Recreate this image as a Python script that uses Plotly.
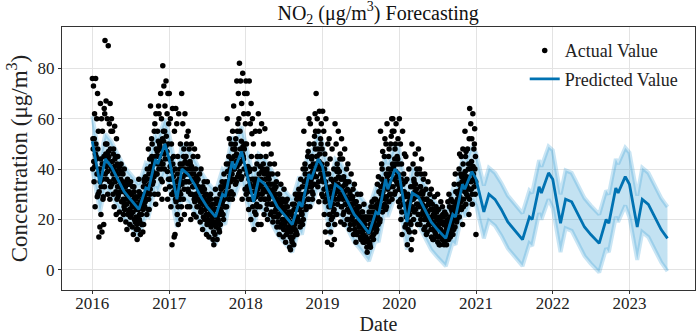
import pandas as pd
import plotly.graph_objects as go

# ---------------- data ----------------
actual_2016 = [
    [76, 52, 73, 35, 62, 25, 76, 45, 60, 29, 70, 48, 30, 55, 38],
    [13, 38, 17, 66, 22, 60, 15, 55, 28, 42, 18, 45, 64, 33, 62],
    [91, 50, 67, 36, 60, 30, 89, 45, 58, 28, 66, 48, 33, 55, 40],
    [60, 40, 55, 30, 48, 25, 57, 35, 45, 22, 52, 38, 28, 42, 33],
    [45, 30, 40, 23, 35, 20, 42, 27, 33, 35, 38, 28, 22, 31, 25],
    [40, 26, 33, 19, 30, 16, 36, 22, 28, 34, 31, 24, 18, 27, 21],
    [35, 22, 30, 17, 26, 14, 33, 20, 25, 29, 28, 21, 16, 24, 18],
    [12, 26, 16, 36, 20, 19, 14, 30, 22, 25, 18, 28, 15, 24, 33],
    [18, 36, 25, 27, 30, 33, 22, 40, 32, 48, 28, 38, 24, 34, 44],
    [30, 65, 40, 52, 50, 35, 35, 42, 55, 58, 45, 38, 26, 62, 48],
    [45, 38, 55, 30, 65, 62, 50, 48, 70, 40, 60, 42, 28, 35, 52],
    [81, 55, 73, 40, 65, 32, 75, 47, 62, 28, 70, 50, 36, 58, 44],
]
actual_2017 = [
    [70, 36, 60, 25, 50, 10, 64, 30, 45, 13, 55, 33, 14, 40, 28],
    [64, 32, 58, 22, 45, 18, 62, 28, 40, 42, 50, 30, 20, 35, 25],
    [70, 40, 58, 28, 48, 22, 62, 35, 45, 50, 53, 38, 25, 42, 32],
    [55, 35, 48, 25, 42, 20, 50, 30, 40, 36, 45, 33, 22, 38, 28],
    [48, 29, 40, 21, 35, 30, 45, 25, 33, 28, 38, 27, 19, 31, 23],
    [40, 24, 32, 16, 28, 26, 35, 20, 27, 30, 30, 22, 14, 25, 18],
    [35, 20, 28, 13, 25, 24, 30, 17, 23, 21, 26, 19, 12, 22, 15],
    [10, 24, 14, 32, 18, 19, 12, 28, 20, 23, 16, 26, 15, 22, 30],
    [18, 33, 23, 26, 27, 22, 20, 38, 29, 34, 25, 35, 30, 31, 42],
    [25, 60, 35, 33, 45, 52, 30, 42, 50, 44, 40, 38, 28, 55, 48],
    [30, 65, 40, 48, 50, 52, 35, 75, 55, 58, 45, 70, 38, 60, 42],
    [82, 55, 75, 36, 66, 28, 78, 45, 62, 48, 70, 50, 32, 58, 40],
]
actual_2018 = [
    [75, 50, 70, 32, 62, 24, 75, 40, 58, 20, 66, 45, 28, 54, 36],
    [60, 28, 50, 16, 40, 35, 55, 22, 36, 42, 45, 25, 30, 32, 18],
    [62, 35, 55, 25, 45, 18, 58, 30, 40, 42, 50, 32, 22, 38, 28],
    [56, 32, 45, 24, 40, 20, 50, 28, 36, 38, 42, 30, 22, 34, 26],
    [46, 26, 38, 19, 32, 29, 42, 23, 30, 33, 35, 25, 17, 28, 21],
    [38, 22, 30, 14, 26, 24, 34, 18, 25, 27, 28, 20, 13, 23, 16],
    [32, 18, 25, 11, 22, 21, 28, 15, 20, 17, 23, 16, 9, 19, 13],
    [8, 22, 12, 11, 16, 19, 10, 26, 18, 30, 14, 24, 15, 20, 28],
    [14, 30, 20, 25, 24, 29, 17, 36, 26, 23, 22, 33, 18, 28, 40],
    [20, 55, 30, 42, 40, 24, 25, 33, 45, 47, 35, 28, 60, 50, 38],
    [25, 58, 35, 33, 45, 28, 30, 38, 50, 53, 40, 62, 48, 55, 42],
    [70, 45, 60, 33, 55, 27, 63, 40, 52, 50, 58, 42, 30, 48, 36],
]
actual_2019 = [
    [63, 35, 55, 22, 46, 15, 60, 28, 42, 11, 50, 32, 18, 38, 25],
    [52, 27, 44, 15, 36, 10, 48, 21, 33, 35, 40, 24, 12, 30, 18],
    [58, 33, 50, 22, 42, 40, 55, 28, 39, 44, 46, 30, 19, 36, 25],
    [52, 30, 44, 22, 37, 18, 48, 26, 34, 35, 40, 28, 20, 32, 24],
    [42, 24, 35, 16, 30, 25, 38, 20, 28, 29, 32, 22, 14, 26, 18],
    [34, 19, 27, 11, 23, 24, 30, 15, 22, 18, 25, 17, 21, 20, 13],
    [30, 15, 23, 17, 19, 14, 26, 11, 18, 12, 21, 13, 20, 16, 9],
    [7, 21, 11, 16, 15, 10, 9, 25, 17, 27, 13, 23, 20, 19, 12],
    [14, 28, 18, 23, 22, 17, 16, 34, 24, 37, 20, 31, 27, 26, 19],
    [20, 55, 30, 42, 40, 47, 25, 33, 45, 52, 35, 28, 24, 50, 38],
    [25, 58, 35, 33, 45, 48, 30, 38, 50, 53, 40, 60, 28, 55, 42],
    [60, 40, 55, 30, 48, 50, 58, 35, 45, 44, 52, 38, 27, 42, 32],
]
actual_2020 = [
    [60, 32, 50, 20, 42, 14, 55, 26, 38, 31, 46, 29, 17, 35, 23],
    [45, 21, 36, 10, 30, 25, 40, 15, 27, 29, 33, 18, 8, 24, 12],
    [50, 28, 42, 20, 35, 15, 46, 24, 32, 40, 38, 26, 18, 30, 22],
    [48, 26, 40, 18, 33, 38, 44, 22, 30, 31, 36, 24, 16, 28, 20],
    [38, 22, 32, 14, 28, 23, 35, 18, 26, 19, 30, 20, 27, 24, 16],
    [32, 19, 26, 12, 22, 18, 29, 15, 21, 25, 24, 17, 23, 20, 13],
    [30, 17, 24, 10, 20, 16, 27, 14, 19, 25, 22, 15, 21, 18, 12],
    [10, 23, 14, 18, 17, 16, 12, 27, 19, 30, 15, 25, 20, 21, 13],
    [14, 28, 18, 23, 22, 17, 16, 34, 24, 38, 20, 31, 27, 26, 19],
    [20, 28, 30, 24, 40, 46, 25, 38, 45, 37, 35, 33, 18, 48, 42],
    [25, 38, 35, 55, 45, 47, 30, 33, 48, 36, 40, 42, 22, 52, 28],
    [64, 42, 58, 32, 52, 26, 62, 38, 48, 50, 56, 40, 30, 45, 35, 14],
]
# Additional observed values in the dense core of each month's cloud
core_2016 = [
    [40, 48, 43, 52, 41, 46, 50, 44, 38], [31, 40, 35, 44, 33, 38, 42, 36, 29],
    [38, 46, 41, 50, 39, 44, 47, 42, 35], [34, 43, 38, 46, 36, 41, 44, 39, 31],
    [29, 38, 33, 41, 31, 36, 39, 34, 27], [24, 33, 28, 35, 26, 31, 34, 29, 23],
    [21, 30, 25, 33, 23, 28, 31, 26, 19], [20, 29, 24, 31, 22, 27, 30, 25, 18],
    [26, 35, 30, 37, 28, 33, 36, 31, 24], [32, 41, 36, 45, 34, 39, 43, 37, 30],
    [38, 47, 42, 51, 40, 45, 49, 43, 36], [42, 51, 46, 55, 44, 49, 53, 47, 39],
]
core_2017 = [
    [33, 41, 36, 44, 30, 39, 42, 37, 31], [27, 35, 30, 38, 25, 33, 36, 31, 28],
    [34, 42, 37, 45, 32, 40, 43, 38, 35], [31, 40, 35, 43, 30, 38, 41, 36, 33],
    [27, 35, 30, 37, 25, 33, 36, 31, 28], [23, 31, 26, 33, 21, 29, 32, 27, 24],
    [19, 27, 22, 29, 18, 25, 28, 23, 20], [18, 26, 21, 28, 17, 24, 27, 22, 19],
    [24, 32, 27, 35, 22, 30, 33, 28, 25], [30, 39, 34, 42, 28, 37, 40, 35, 31],
    [36, 45, 40, 48, 34, 43, 46, 41, 37], [39, 48, 43, 51, 37, 46, 49, 44, 40],
]
core_2018 = [
    [30, 38, 33, 41, 28, 36, 39, 34, 31], [25, 33, 28, 36, 23, 31, 34, 29, 26],
    [30, 38, 33, 41, 28, 36, 39, 34, 31], [28, 36, 31, 39, 26, 34, 37, 32, 29],
    [23, 31, 26, 34, 21, 29, 32, 27, 24], [19, 27, 22, 30, 17, 25, 28, 23, 20],
    [16, 24, 19, 27, 14, 22, 25, 20, 17], [15, 23, 18, 26, 13, 21, 24, 19, 16],
    [21, 29, 24, 32, 19, 27, 30, 25, 22], [27, 35, 30, 38, 25, 33, 36, 31, 28],
    [33, 41, 36, 44, 31, 39, 42, 37, 34], [37, 45, 40, 48, 35, 43, 46, 41, 38],
]
core_2019 = [
    [29, 37, 32, 40, 27, 35, 38, 33, 30], [22, 30, 25, 33, 20, 28, 31, 26, 23],
    [28, 36, 31, 39, 26, 34, 37, 32, 29], [25, 33, 28, 36, 23, 31, 34, 29, 26],
    [20, 28, 23, 31, 18, 26, 29, 24, 21], [16, 24, 19, 27, 14, 22, 25, 20, 17],
    [12, 20, 15, 23, 11, 18, 21, 16, 13], [12, 20, 15, 23, 11, 18, 21, 16, 13],
    [17, 25, 20, 28, 15, 23, 26, 21, 18], [25, 33, 28, 36, 23, 31, 34, 29, 26],
    [29, 37, 32, 40, 27, 35, 38, 33, 30], [33, 41, 36, 44, 31, 39, 42, 37, 34],
]
core_2020 = [
    [25, 33, 28, 36, 23, 31, 34, 29, 26], [18, 26, 21, 29, 16, 24, 27, 22, 19],
    [25, 33, 28, 36, 23, 31, 34, 29, 26], [22, 30, 25, 33, 20, 28, 31, 26, 23],
    [17, 25, 20, 28, 15, 23, 26, 21, 18], [13, 21, 16, 24, 12, 19, 22, 17, 14],
    [11, 18, 13, 21, 10, 16, 19, 14, 12], [11, 19, 14, 22, 10, 17, 20, 15, 12],
    [16, 24, 19, 27, 14, 22, 25, 20, 17], [23, 31, 26, 34, 21, 29, 32, 27, 24],
    [28, 36, 31, 39, 26, 34, 37, 32, 29], [32, 40, 35, 43, 30, 38, 41, 36, 33],
]
actual_years = [2016, 2017, 2018, 2019, 2020]

# Forecast key dates (month-day) and values
pred_month_days = ["01-01", "02-07", "03-03", "04-01", "05-01", "06-01", "07-01",
                   "08-10", "09-12", "09-25", "10-28", "11-08", "12-12"]
pred_years = [2016, 2017, 2018, 2019, 2020, 2021, 2022, 2023]
predicted = [
    51, 34, 44, 41, 36, 31, 28, 24, 32.5, 32, 44, 42, 50,
    44, 28, 40, 38, 34, 29, 25, 21, 30, 29, 43, 40, 47,
    40, 27, 36, 34, 30, 25, 22, 18, 27, 25, 38, 36, 44,
    41, 24.5, 34, 32, 27, 22, 19, 14.5, 23, 22, 36, 32, 40,
    38, 19, 30.5, 29, 24, 19, 16, 12.5, 22, 21, 34, 32, 39,
    36, 23, 30, 28, 24, 19, 16, 12, 21, 20, 33, 30.5, 38.5,
    36, 18.5, 28, 27, 22, 17, 14, 10.5, 20, 18.5, 32.5, 30.5, 37,
    34, 17, 28, 26, 21, 16, 12.5,
]
upper = [
    61, 44, 54, 51, 46, 41, 38, 34, 42.5, 42, 54, 52, 60,
    54, 38, 50, 48, 44, 39, 35, 31, 40, 39, 53, 50, 57,
    50, 37, 46, 44, 40, 35, 32, 28, 37, 35, 48, 46, 54,
    51, 34.5, 44, 42, 37, 32, 29, 24.5, 33, 32, 46, 42, 50,
    48, 29, 40.5, 39, 34, 29, 26, 22.5, 32, 31, 44, 42, 49,
    46.5, 33.5, 40.5, 38.5, 34.5, 29.5, 26.5, 22.5, 31.5, 30.5, 43.5, 41, 49,
    47.5, 30, 39.5, 38.5, 33.5, 28.5, 25.5, 22, 31.5, 30, 44, 42, 48.5,
    46.5, 29.5, 40.5, 38.5, 33.5, 28.5, 25,
]
lower = [
    40, 23, 33, 30, 25, 20, 17, 13, 21.5, 21, 33, 31, 39,
    33, 17, 29, 27, 23, 18, 14, 10, 19, 18, 32, 29, 36,
    29, 16, 25, 23, 19, 14, 11, 7, 16, 14, 27, 25, 33,
    30, 13.5, 23, 21, 16, 11, 8, 3.5, 12, 11, 25, 21, 29,
    27, 8, 19.5, 18, 13, 8, 5, 1.5, 11, 10, 23, 21, 28,
    25.5, 12.5, 19.5, 17.5, 13.5, 8.5, 5.5, 1.5, 10.5, 9.5, 22.5, 20, 28,
    24.5, 7, 16.5, 15.5, 10.5, 5.5, 2.5, -1, 8.5, 7, 21, 19, 25.5,
    21, 4, 15, 13, 8, 3, -0.5,
]
x_tick_years = [2016, 2017, 2018, 2019, 2020, 2021, 2022, 2023]
y_ticks = [0, 20, 40, 60, 80]

# ---------------- build x positions ----------------
act_x, act_y = [], []
mains = [actual_2016, actual_2017, actual_2018, actual_2019, actual_2020]
cores = [core_2016, core_2017, core_2018, core_2019, core_2020]
for yr, months, cmonths in zip(actual_years, mains, cores):
    for m, (vals, cvals) in enumerate(zip(months, cmonths), start=1):
        merged = []
        for i in range(max(len(vals), len(cvals))):
            if i < len(vals):
                merged.append(vals[i])
            if i < len(cvals):
                merged.append(cvals[i])
        start = pd.Timestamp(yr, m, 1)
        ndays = start.days_in_month
        n = len(merged)
        for i, v in enumerate(merged):
            act_x.append(start + pd.Timedelta(days=(i + 0.5) * ndays / n))
            act_y.append(v)

pred_x = []
for yr in pred_years:
    for md in pred_month_days:
        pred_x.append(pd.Timestamp(f"{yr}-{md}"))
pred_x = pred_x[:len(predicted)]

BLUE = "#0072B2"
SERIF = "Liberation Serif, Times New Roman, serif"

fig = go.Figure()
fig.add_trace(go.Scatter(x=pred_x, y=lower, mode="lines", line=dict(width=0),
                         showlegend=False, hoverinfo="skip"))
fig.add_trace(go.Scatter(x=pred_x, y=upper, mode="lines", line=dict(width=0),
                         fill="tonexty", fillcolor="rgba(40,150,210,0.28)",
                         showlegend=False, hoverinfo="skip"))
for edge in (upper, lower):
    fig.add_trace(go.Scatter(x=pred_x, y=edge, mode="lines",
                             line=dict(width=4, color="rgba(40,150,210,0.25)"),
                             showlegend=False, hoverinfo="skip"))
fig.add_trace(go.Scatter(x=act_x, y=act_y, mode="markers", name="Actual Value",
                         marker=dict(color="black", size=5.5, line=dict(width=0)),
                         legendgroup="a"))
fig.add_trace(go.Scatter(x=pred_x, y=predicted, mode="lines", name="Predicted Value",
                         line=dict(color=BLUE, width=2.8), legendgroup="b"))

fig.update_layout(
    width=699, height=335,
    margin=dict(l=62, r=4, t=27, b=45, autoexpand=False),
    plot_bgcolor="white", paper_bgcolor="white",
    font=dict(family=SERIF, size=17, color="#222"),
    title=dict(text="NO<sub>2</sub> (μg/m<sup>3</sup>) Forecasting", x=0.541, xanchor="center",
               y=0.962, yanchor="middle", font=dict(family=SERIF, size=20, color="#111")),
    legend=dict(x=0.731, y=0.98, xanchor="left", yanchor="top", bgcolor="rgba(0,0,0,0)",
                font=dict(family=SERIF, size=18, color="#222"), tracegroupgap=2,
                itemwidth=30),
    showlegend=True,
)
fig.update_xaxes(
    type="date", range=["2015-08-10", "2023-11-09"],
    tickvals=[pd.Timestamp(y, 1, 1) for y in x_tick_years],
    ticktext=[str(y) for y in x_tick_years],
    showgrid=True, gridcolor="#e3e3e3", gridwidth=1,
    showline=True, linecolor="#333", linewidth=1.2, mirror=True,
    ticks="outside", ticklen=3, tickcolor="#333", ticklabelstandoff=-6,
    tickfont=dict(size=17), zeroline=False, automargin=False,
    title=dict(text="Date", font=dict(size=20), standoff=2),
)
fig.update_yaxes(
    range=[-8, 96.4], tickvals=y_ticks,
    showgrid=True, gridcolor="#e3e3e3", gridwidth=1,
    showline=True, linecolor="#333", linewidth=1.2, mirror=True,
    ticks="outside", ticklen=3, tickcolor="#333",
    tickfont=dict(size=17), zeroline=False, automargin=False,
    title=dict(text="Concentration (μg/m<sup>3</sup>)", font=dict(size=23), standoff=3),
)

fig.write_html("out.html", config={"displayModeBar": False})
with open("out.html", "r", encoding="utf-8") as f:
    html = f.read()
html = html.replace("<head>", "<head><style>html,body{margin:0;padding:0;overflow:hidden;}</style>", 1)
with open("out.html", "w", encoding="utf-8") as f:
    f.write(html)
